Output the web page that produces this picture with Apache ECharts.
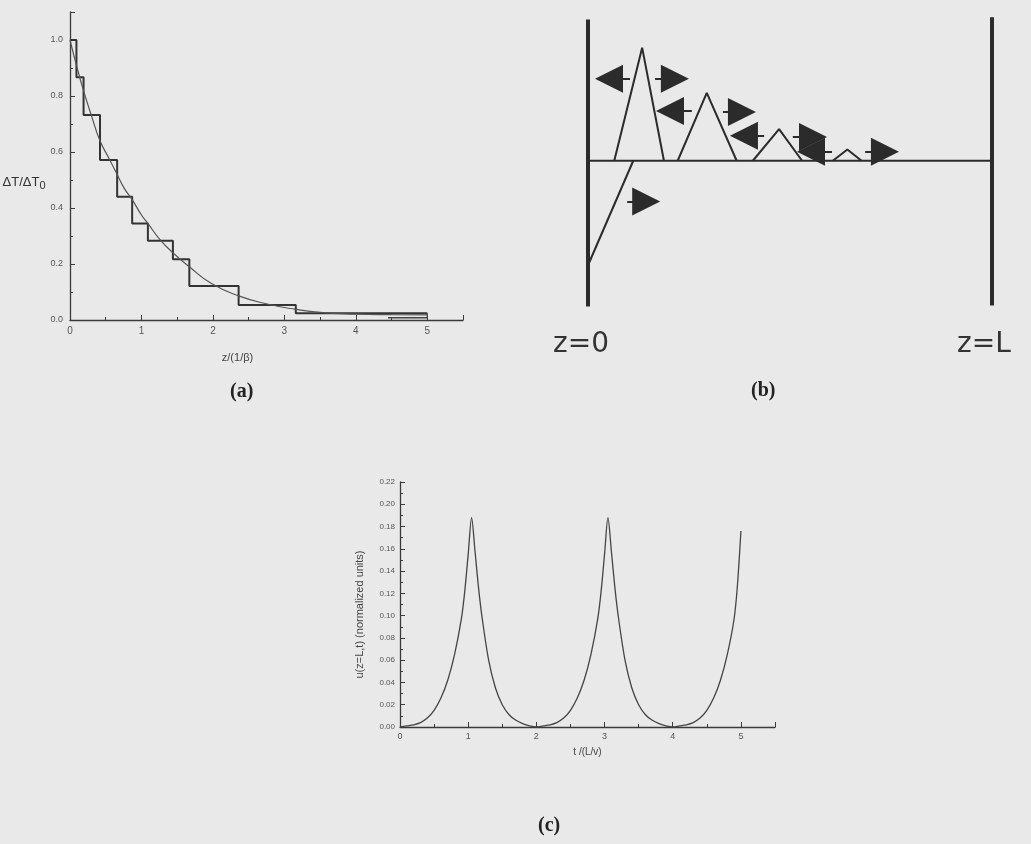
<!DOCTYPE html>
<html>
<head>
<meta charset="utf-8">
<title>Figure (a)(b)(c)</title>
<script src="https://cdn.jsdelivr.net/npm/echarts@6/dist/echarts.min.js"></script>
<style>
  html, body { margin: 0; padding: 0; background: #e9e9e9; }
  #chart { width: 1031px; height: 844px; }
</style>
</head>
<body>
<div id="chart"></div>
<script>
// ---- (a) staircase + smooth decay ----
const stepEdges = [0, 0.09, 0.19, 0.42, 0.66, 0.87, 1.09, 1.44, 1.67, 2.36, 3.16, 5.0];
const stepLevels = [1.0, 0.867, 0.732, 0.571, 0.44, 0.345, 0.283, 0.217, 0.121, 0.054, 0.024];
const stepTailX = [5.0, 5.0, 4.45];
const stepTailY = [0.024, 0.008, 0.008];
const decayX = [0, 0.1, 0.2, 0.3, 0.42, 0.55, 0.66, 0.76, 0.87, 1.0, 1.09, 1.25, 1.44, 1.67, 1.98, 2.36, 2.76, 3.16, 3.5, 4.0, 4.5, 5.0];
const decayY = [1.0, 0.9, 0.81, 0.73, 0.64, 0.575, 0.52, 0.47, 0.43, 0.375, 0.345, 0.29, 0.24, 0.19, 0.13, 0.086, 0.057, 0.038, 0.027, 0.021, 0.019, 0.018];
const aXTicks = ['0', '1', '2', '3', '4', '5'];

// ---- (b) sketch: walls, baseline, pulses, arrows ----
const wallLeftY = [1.25, -1.29];
const wallRightY = [1.27, -1.28];
const pulseX = [[0.65, 1.34, 1.88], [2.22, 2.94, 3.68], [4.08, 4.73, 5.30], [6.06, 6.42, 6.77]];
const pulseY = [[0, 1.0, 0], [0, 0.60, 0], [0, 0.28, 0], [0, 0.10, 0]];
const reflectX = [0.03, 1.12];
const reflectY = [-0.90, 0];
const arrowFromX = [1.04, 1.66, 2.57, 3.34, 4.36, 5.07, 6.04, 6.86, 0.97];
const arrowToX = [0.52, 2.15, 2.03, 3.81, 3.86, 5.57, 5.52, 7.35, 1.44];
const arrowY = [0.726, 0.726, 0.44, 0.43, 0.22, 0.21, 0.08, 0.08, -0.36];

// ---- (c) u(z=L,t) ----
const cT = [0, 0.1, 0.2, 0.3, 0.4, 0.5, 0.6, 0.7, 0.8, 0.9, 0.95, 1.0, 1.05, 1.1, 1.15, 1.2, 1.3, 1.4, 1.5, 1.6, 1.7, 1.8, 1.9, 2.0,
  2.1, 2.2, 2.3, 2.4, 2.5, 2.6, 2.7, 2.8, 2.9, 2.95, 3.0, 3.05, 3.1, 3.15, 3.2, 3.3, 3.4, 3.5, 3.6, 3.7, 3.8, 3.9, 4.0,
  4.1, 4.2, 4.3, 4.4, 4.5, 4.6, 4.7, 4.8, 4.9, 4.95, 5.0];
const cU = [0, 0.001, 0.002, 0.004, 0.008, 0.015, 0.026, 0.042, 0.065, 0.097, 0.122, 0.155, 0.188, 0.158, 0.126, 0.100, 0.060, 0.035, 0.020, 0.011, 0.006, 0.003, 0.001, 0,
  0.001, 0.002, 0.004, 0.008, 0.015, 0.026, 0.042, 0.065, 0.097, 0.122, 0.155, 0.188, 0.158, 0.126, 0.100, 0.060, 0.035, 0.020, 0.011, 0.006, 0.003, 0.001, 0,
  0.001, 0.002, 0.004, 0.008, 0.015, 0.026, 0.042, 0.065, 0.097, 0.128, 0.176];

const ink = '#2b2b2b';
const zip = (xs, ys) => xs.map((x, i) => [x, ys[i]]);

let stairData = [];
for (let i = 0; i < stepLevels.length; i++) {
  stairData.push([stepEdges[i], stepLevels[i]]);
  stairData.push([stepEdges[i + 1], stepLevels[i]]);
}

function plotAxis(extra) {
  return Object.assign({
    type: 'value',
    axisLine: { show: true, lineStyle: { color: '#3a3a3a', width: 1.3 } },
    axisTick: { show: true, inside: true, length: 5, lineStyle: { color: '#3a3a3a' } },
    minorTick: { show: true, splitNumber: 2, length: 3, lineStyle: { color: '#3a3a3a' } },
    splitLine: { show: false },
    axisLabel: { color: '#555', fontSize: 9, fontFamily: 'Liberation Sans', margin: 6 },
  }, extra);
}

function sketchLine(data, width) {
  return {
    type: 'line', xAxisIndex: 1, yAxisIndex: 1, data: data,
    showSymbol: false, clip: false, silent: true,
    lineStyle: { color: ink, width: width },
  };
}

let sketchSeries = [
  sketchLine([[0, wallLeftY[0]], [0, wallLeftY[1]]], 4),
  sketchLine([[10, wallRightY[0]], [10, wallRightY[1]]], 4),
  sketchLine([[0, 0], [10, 0]], 2),
  sketchLine(zip(reflectX, reflectY), 2),
];
pulseX.forEach((xs, i) => sketchSeries.push(sketchLine(zip(xs, pulseY[i]), 2)));
sketchSeries.push({
  type: 'lines', coordinateSystem: 'cartesian2d', xAxisIndex: 1, yAxisIndex: 1,
  symbol: ['none', 'triangle'], symbolSize: [20, 28], silent: true,
  lineStyle: { color: ink, width: 2, opacity: 1 },
  itemStyle: { color: ink },
  data: arrowY.map((y, i) => ({ coords: [[arrowFromX[i], y], [arrowToX[i], y]] })),
});

let chart = echarts.init(document.getElementById('chart'));
let option = {
  backgroundColor: '#e9e9e9',
  animation: false,
  grid: [
    { left: 70, top: 12, right: 568, bottom: 524 },
    { left: 588, top: 16, right: 39, bottom: 534 },
    { left: 400, top: 482, right: 256, bottom: 117 },
  ],
  xAxis: [
    plotAxis({
      gridIndex: 0, min: 0, max: 5.5, interval: 1,
      axisLabel: { color: '#555', fontSize: 10, fontFamily: 'Liberation Sans', margin: 6,
        formatter: v => aXTicks[v] !== undefined ? aXTicks[v] : '' },
      name: 'z/(1/β)', nameLocation: 'middle', nameGap: 32,
      nameTextStyle: { color: '#444', fontSize: 11, fontFamily: 'Liberation Sans', padding: [0, 58, 0, 0] },
    }),
    { type: 'value', gridIndex: 1, min: 0, max: 10, show: false },
    plotAxis({
      gridIndex: 2, min: 0, max: 5.5, interval: 1,
      axisLabel: { color: '#555', fontSize: 9, fontFamily: 'Liberation Sans', margin: 5,
        formatter: v => Number.isInteger(v) ? String(v) : '' },
      name: 't /(L/v)', nameLocation: 'middle', nameGap: 20,
      nameTextStyle: { color: '#444', fontSize: 10, fontFamily: 'Liberation Sans' },
    }),
  ],
  yAxis: [
    plotAxis({
      gridIndex: 0, min: 0, max: 1.1, interval: 0.2,
      axisLabel: { color: '#555', fontSize: 9, fontFamily: 'Liberation Sans', margin: 7,
        formatter: v => v <= 1.0001 ? v.toFixed(1) : '' },
      name: '{t|ΔT/ΔT}{s|0}', nameLocation: 'middle', nameRotate: 0, nameGap: 15,
      nameTextStyle: {
        padding: [32, 0, 0, 0],
        rich: {
          t: { fontSize: 13, color: '#333', fontFamily: 'Liberation Sans' },
          s: { fontSize: 11, color: '#333', fontFamily: 'Liberation Sans', padding: [8, 0, 0, 0] },
        },
      },
    }),
    { type: 'value', gridIndex: 1, min: -1.32, max: 1.28, show: false },
    plotAxis({
      gridIndex: 2, min: 0, max: 0.22, interval: 0.02,
      axisLabel: { color: '#555', fontSize: 8, fontFamily: 'Liberation Sans', margin: 5,
        formatter: v => v.toFixed(2) },
      name: 'u(z=L,t) (normalized units)', nameLocation: 'middle', nameRotate: 90, nameGap: 35,
      nameTextStyle: { color: '#444', fontSize: 11, fontFamily: 'Liberation Sans', padding: [0, 20, 0, 0] },
    }),
  ],
  graphic: [
    { type: 'text', left: 553, top: 331, style: { text: 'z=0', fontSize: 28, fontFamily: 'DejaVu Sans', fill: '#333' } },
    { type: 'text', left: 957, top: 331, style: { text: 'z=L', fontSize: 28, fontFamily: 'DejaVu Sans', fill: '#333' } },
    { type: 'text', left: 230, top: 382, style: { text: '(a)', fontSize: 20, fontWeight: 'bold', fontFamily: 'Liberation Serif', fill: '#222' } },
    { type: 'text', left: 751, top: 381, style: { text: '(b)', fontSize: 20, fontWeight: 'bold', fontFamily: 'Liberation Serif', fill: '#222' } },
    { type: 'text', left: 538, top: 816, style: { text: '(c)', fontSize: 20, fontWeight: 'bold', fontFamily: 'Liberation Serif', fill: '#222' } },
  ],
  series: [
    {
      type: 'line', xAxisIndex: 0, yAxisIndex: 0, data: stairData,
      showSymbol: false, lineStyle: { color: '#333', width: 2 },
    },
    {
      type: 'line', xAxisIndex: 0, yAxisIndex: 0, data: zip(stepTailX, stepTailY),
      showSymbol: false, lineStyle: { color: '#444', width: 1.3 },
    },
    {
      type: 'line', xAxisIndex: 0, yAxisIndex: 0, data: zip(decayX, decayY),
      showSymbol: false, smooth: true, lineStyle: { color: '#555', width: 1.2 },
    },
    ...sketchSeries,
    {
      type: 'line', xAxisIndex: 2, yAxisIndex: 2, data: zip(cT, cU),
      showSymbol: false, smooth: 0.3, lineStyle: { color: '#444', width: 1.3 },
    },
  ],
};
chart.setOption(option);
</script>
</body>
</html>
